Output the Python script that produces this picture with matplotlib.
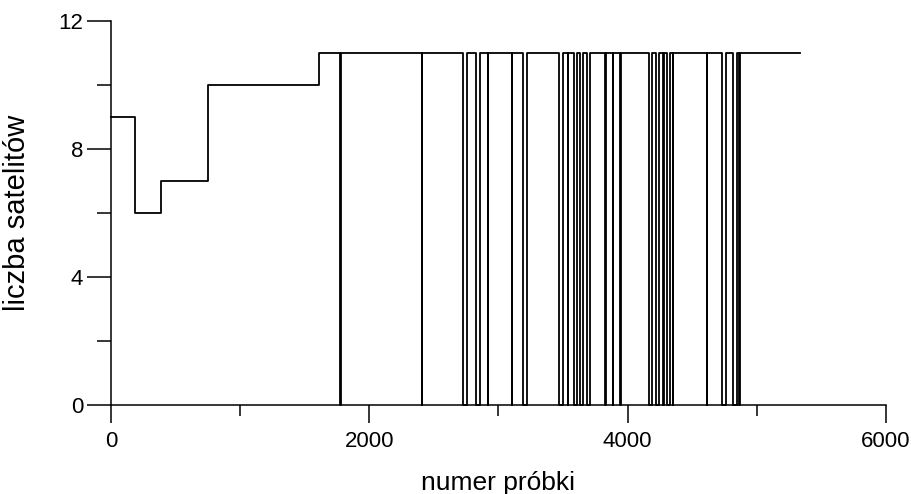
import matplotlib
matplotlib.use("Agg")
import matplotlib.pyplot as plt
from matplotlib.ticker import MultipleLocator

plt.rcParams['font.family'] = ['Liberation Sans', 'DejaVu Sans']

# Satellite count levels (sample index where level starts, level)
level_start = [0, 188, 386, 749, 1609]
level_value = [9, 6, 7, 10, 11]
last_sample = 5334

# Dropouts to zero satellites (start, end sample)
drop_start = [1773, 2405, 2728, 2826, 2916, 3104, 3187, 3471, 3536, 3585, 3632, 3683,
              3825, 3884, 3941, 4168, 4219, 4276, 4302, 4348, 4612, 4728, 4813, 4864]
drop_end = [1777, 2409, 2754, 2857, 2920, 3108, 3223, 3497, 3540, 3608, 3652, 3708,
            3829, 3888, 3945, 4186, 4245, 4280, 4328, 4352, 4616, 4761, 4844, 4868]

# build step series
xs, ys = [], []
for s, v in zip(level_start, level_value):
    xs.append(s); ys.append(v)
base = level_value[-1]
for a, b in zip(drop_start, drop_end):
    xs.append(a); ys.append(0)
    xs.append(b); ys.append(base)
xs.append(last_sample); ys.append(base)

fig = plt.figure(figsize=(9.12, 4.94), dpi=100)
ax = fig.add_axes([111/912, 1 - 405/494, (886-111)/912, (405-21)/494])
ax.step(xs, ys, where='post', color='black', linewidth=1.3, clip_on=False)

ax.set_xlim(0, 6000)
ax.set_ylim(0, 12)
for sp in ['top', 'right']:
    ax.spines[sp].set_visible(False)
for sp in ['left', 'bottom']:
    ax.spines[sp].set_linewidth(1.1)

ax.xaxis.set_major_locator(MultipleLocator(2000))
ax.xaxis.set_minor_locator(MultipleLocator(1000))
ax.yaxis.set_major_locator(MultipleLocator(4))
ax.yaxis.set_minor_locator(MultipleLocator(2))
ax.tick_params(axis='x', which='major', direction='out', length=13, width=1.1, pad=6, labelsize=16)
ax.tick_params(axis='x', which='minor', direction='out', length=8, width=1.1)
ax.tick_params(axis='y', which='major', direction='out', length=17, width=1.1, pad=3, labelsize=16)
ax.tick_params(axis='y', which='minor', direction='out', length=10, width=1.1)

ax.set_xlabel('numer próbki', fontsize=19)
ax.xaxis.label.set_va('center')
ax.xaxis.set_label_coords(0.5, (405 - 483) / 384)
ax.set_ylabel('liczba satelitów', fontsize=21)
ax.yaxis.label.set_va('center')
ax.yaxis.set_label_coords((17 - 111) / 775, 0.5)

fig.savefig('out.png', dpi=100)
